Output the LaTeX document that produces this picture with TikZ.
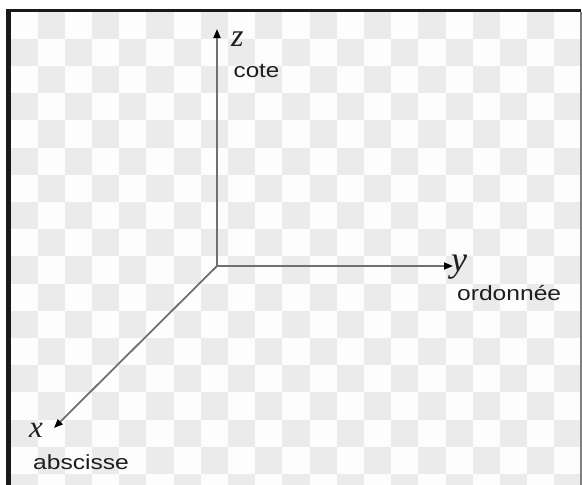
\documentclass[tikz,border=0pt]{standalone}
\usepackage{fontspec}
\setmainfont{Liberation Serif}
\newfontfamily\labfont{Liberation Sans}
\usetikzlibrary{arrows.meta}
\definecolor{chkgray}{RGB}{235,235,235}
\definecolor{chkwhite}{RGB}{253,253,253}
\definecolor{axisgray}{RGB}{112,112,112}
\definecolor{framecol}{RGB}{25,25,25}
\definecolor{textcol}{RGB}{30,30,30}
\tikzset{
  axisline/.style={draw=axisgray, line width=1.8pt, -{Triangle[length=9pt,width=7pt,color=black]}},
  axislabel/.style={anchor=base west, inner sep=0pt, text=textcol},
  wordlabel/.style={anchor=base west, inner sep=0pt, text=textcol, font=\labfont\fontsize{20.5}{24}\selectfont},
}
\begin{document}
\begin{tikzpicture}[x=1pt,y=-1pt]
\useasboundingbox (0,0) rectangle (582,485);
\fill[white] (0,0) rectangle (582,485);
\begin{scope}
\clip (11,12) rectangle (582,485);
\fill[chkwhite] (11,12) rectangle (582,485);
\foreach \i in {0,...,21}{
  \foreach \j in {0,...,17}{
    \pgfmathtruncatemacro{\cellpar}{mod(\i+\j,2)}
    \ifnum\cellpar=1
      \fill[chkgray] ({10.4+27.2*\i},{11.5+27.2*\j}) rectangle ++(27.2,27.2);
    \fi
  }
}
\end{scope}
\fill[framecol] (6,9) rectangle (581,12);
\fill[framecol] (6,9) rectangle (11,485);
\fill[gray] (580,12) rectangle (581.5,485);

\coordinate (O) at (217,266);
\coordinate (ztip) at (217,29);
\coordinate (ytip) at (453,266);
\coordinate (xtip) at (54,428);
\draw[axisline] (O) -- (ztip);
\draw[axisline] (O) -- (ytip);
\draw[axisline] (O) -- (xtip);

\node[axislabel, font=\itshape\fontsize{32}{36}\selectfont] (zl) at (231,46) {z};
\node[axislabel, font=\itshape\fontsize{36}{40}\selectfont] (yl) at (451,271) {y};
\node[axislabel, font=\itshape\fontsize{31}{34}\selectfont] (xl) at (29,437) {x};

\node[wordlabel] (cote) at (233.5,77.5) {\scalebox{1.18}[1]{cote}};
\node[wordlabel] (ord) at (457,300) {\scalebox{1.2}[1]{ordonnée}};
\node[wordlabel] (abs) at (33,469) {\scalebox{1.2}[1]{abscisse}};
\end{tikzpicture}
\end{document}
